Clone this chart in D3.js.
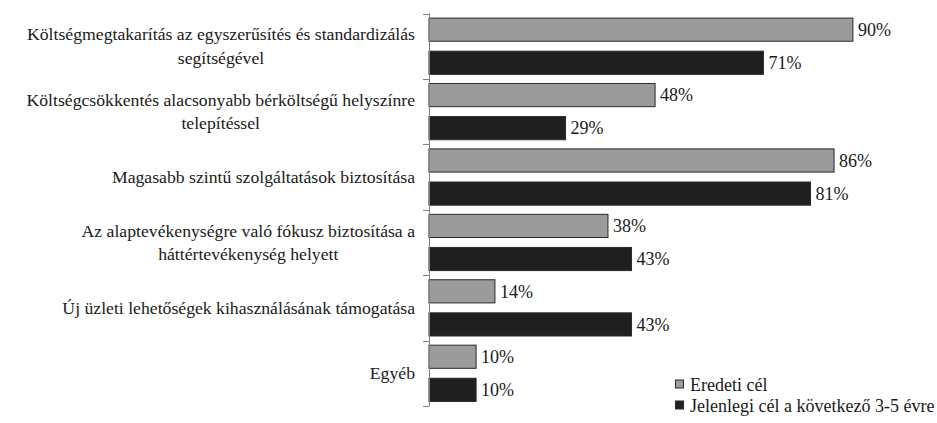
<!DOCTYPE html>
<html>
<head>
<meta charset="utf-8">
<script src="https://cdn.jsdelivr.net/npm/d3@7/dist/d3.min.js"></script>
<style>
  html, body { margin: 0; padding: 0; background: #fff; }
  svg { display: block; }
</style>
</head>
<body>
<svg id="chart" width="937" height="423"></svg>
<script>
// Category labels (each inner array = wrapped lines)
const categories = [
  ["Költségmegtakarítás az egyszerűsítés és standardizálás", "segítségével"],
  ["Költségcsökkentés alacsonyabb bérköltségű helyszínre", "telepítéssel"],
  ["Magasabb szintű szolgáltatások biztosítása"],
  ["Az alaptevékenységre való fókusz biztosítása a", "háttértevékenység helyett"],
  ["Új üzleti lehetőségek kihasználásának támogatása"],
  ["Egyéb"]
];
const seriesNames = ["Eredeti cél", "Jelenlegi cél a következő 3-5 évre"];
const original = [90, 48, 86, 38, 14, 10];
const current  = [71, 29, 81, 43, 43, 10];
const seriesColors = ["#9b9b9b", "#1f1f1f"];

const FONT = '"Liberation Serif", "Times New Roman", Times, serif';
const svg = d3.select("#chart");
const x0 = 429, xEnd = 900, yTop = 13.5, yBottom = 406;

const x = d3.scaleLinear().domain([0, 100]).range([x0, xEnd]);
const catKeys = categories.map((_, i) => i);
const yCat = d3.scaleBand().domain(catKeys).range([yTop, yBottom]).padding(0);
const ySer = d3.scaleBand().domain([0, 1])
  .range([yCat.step() * 0.07, yCat.step() * 0.93]).paddingInner(0.3);

const rows = catKeys.map(i => ({ i, values: [original[i], current[i]] }));

// Bars
const groups = svg.append("g").selectAll("g").data(rows).join("g")
  .attr("transform", d => `translate(0,${yCat(d.i)})`);

groups.selectAll("rect").data(d => d.values.map((v, s) => ({ v, s }))).join("rect")
  .attr("x", x(0))
  .attr("y", d => ySer(d.s))
  .attr("width", d => x(d.v) - x(0))
  .attr("height", ySer.bandwidth())
  .attr("fill", d => seriesColors[d.s])
  .attr("stroke", "#2a2a2a")
  .attr("stroke-width", 1);

// Value labels
groups.selectAll("text.val").data(d => d.values.map((v, s) => ({ v, s }))).join("text")
  .attr("class", "val")
  .attr("x", d => x(d.v) + 5)
  .attr("y", d => ySer(d.s) + ySer.bandwidth() / 2)
  .attr("dy", "0.35em")
  .style("font-family", FONT)
  .style("font-size", "18px")
  .style("fill", "#1a1a1a")
  .text(d => d.v + "%");

// Category axis line and boundary ticks
const axis = svg.append("g").attr("stroke", "#808080").attr("stroke-width", 1);
axis.append("line").attr("x1", x0 + 0.5).attr("x2", x0 + 0.5).attr("y1", yTop).attr("y2", yBottom);
[...catKeys.map(i => yCat(i)), yBottom].forEach(yy => {
  axis.append("line").attr("x1", x0 - 6).attr("x2", x0 + 0.5)
    .attr("y1", Math.round(yy) + 0.5).attr("y2", Math.round(yy) + 0.5);
});

// Category labels: block right-aligned, lines centred within the block
const labelRight = 415, lineH = 23.5;
categories.forEach((lines, i) => {
  const cy = yCat(i) + yCat.step() / 2;
  const g = svg.append("g");
  const texts = lines.map((ln, k) => g.append("text")
    .attr("y", cy + (k - (lines.length - 1) / 2) * lineH)
    .attr("dy", "0.33em")
    .style("font-family", FONT)
    .style("font-size", "17.7px")
    .style("fill", "#1a1a1a")
    .attr("text-anchor", "middle")
    .text(ln));
  const widths = texts.map(t => t.node().getComputedTextLength());
  const maxW = d3.max(widths);
  texts.forEach(t => t.attr("x", labelRight - maxW / 2));
});

// Legend
const legend = svg.append("g");
seriesNames.forEach((name, s) => {
  const ly = 384.5 + s * 21;
  legend.append("rect").attr("x", 675.5).attr("y", ly - 4.5).attr("width", 8).attr("height", 8)
    .attr("fill", seriesColors[s]).attr("stroke", "#2a2a2a");
  legend.append("text").attr("x", 690).attr("y", ly).attr("dy", "0.35em")
    .style("font-family", FONT).style("font-size", "18px").style("fill", "#1a1a1a")
    .text(name);
});
</script>
</body>
</html>
